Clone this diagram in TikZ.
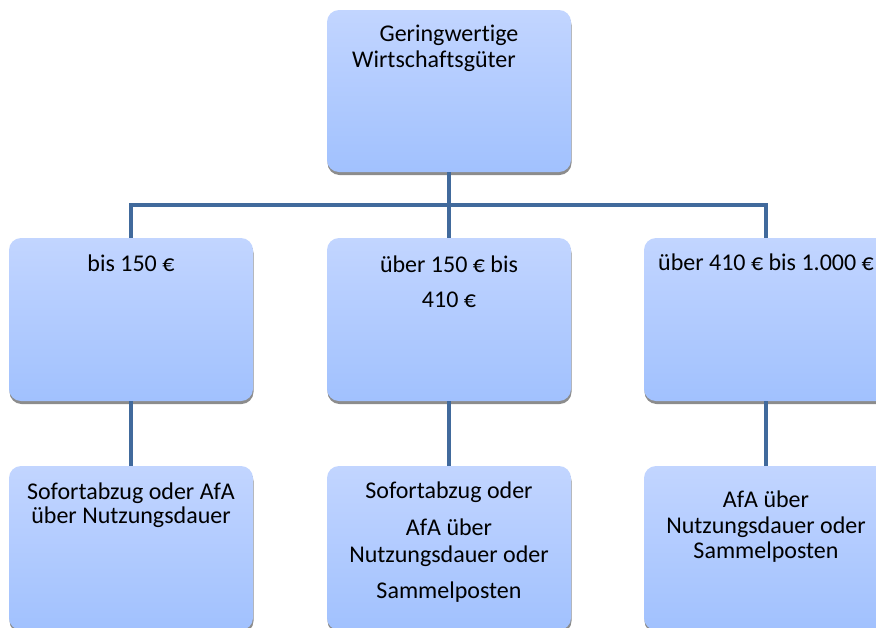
\documentclass[tikz,border=0pt]{standalone}
\usepackage{fontspec}
\setmainfont{Carlito}[Ligatures={NoCommon,NoContextual}]
\usetikzlibrary{shadows}
\definecolor{boxtop}{RGB}{194,213,255}
\definecolor{boxbot}{RGB}{161,193,254}
\definecolor{connc}{RGB}{65,106,156}
\begin{document}
\begin{tikzpicture}[x=1pt,y=-1pt,
  box/.style={rectangle, rounded corners=12pt, minimum width=244pt, inner sep=0pt,
    top color=boxtop, bottom color=boxbot, draw=none,
    drop shadow={shadow xshift=0.5pt, shadow yshift=-3pt, fill=black!45, opacity=1}},
  conn/.style={draw=connc, line width=4pt, line join=miter},
  txt/.style={anchor=base, inner sep=0pt, font=\fontsize{24}{28}\selectfont, text=black}]
\useasboundingbox (0,0) rectangle (876,627);
\clip (0,0) rectangle (876,627);
% boxes
\node[box, minimum height=162pt] (top) at (449,91) {};
\node[box, minimum height=163pt] (m1) at (131,319.5) {};
\node[box, minimum height=163pt] (m2) at (449,319.5) {};
\node[box, minimum height=163pt] (m3) at (766,319.5) {};
\node[box, minimum height=164pt] (b1) at (131,548) {};
\node[box, minimum height=164pt] (b2) at (449,548) {};
\node[box, minimum height=164pt] (b3) at (766,548) {};
% connectors
\draw[conn] (top.south) -- (m2.north);
\draw[conn] (m1.north) -- ++(0,-33) coordinate (bl) -| (m3.north);
\draw[conn] (m1.south) -- (b1.north);
\draw[conn] (m2.south) -- (b2.north);
\draw[conn] (m3.south) -- (b3.north);
% texts
\node[txt] (t1) at (449,41) {Geringwertige};
\node[txt] (t2) at (434,67) {Wirtschaftsgüter};
\node[txt] (t3) at (131,271) {bis 150 €};
\node[txt] (t4) at (449,272) {über 150 € bis};
\node[txt] (t5) at (449,307) {410 €};
\node[txt] (t6) at (766,270) {über 410 € bis 1.000 €};
\node[txt] (t7) at (131,499) {Sofortabzug oder AfA};
\node[txt] (t8) at (131,523) {über Nutzungsdauer};
\node[txt] (t9) at (449,498) {Sofortabzug oder};
\node[txt] (t10) at (449,535) {AfA über};
\node[txt] (t11) at (449,562) {Nutzungsdauer oder};
\node[txt] (t12) at (449,598) {Sammelposten};
\node[txt] (t13) at (766,507) {AfA über};
\node[txt] (t14) at (766,533) {Nutzungsdauer oder};
\node[txt] (t15) at (766,558) {Sammelposten};
\end{tikzpicture}
\end{document}
